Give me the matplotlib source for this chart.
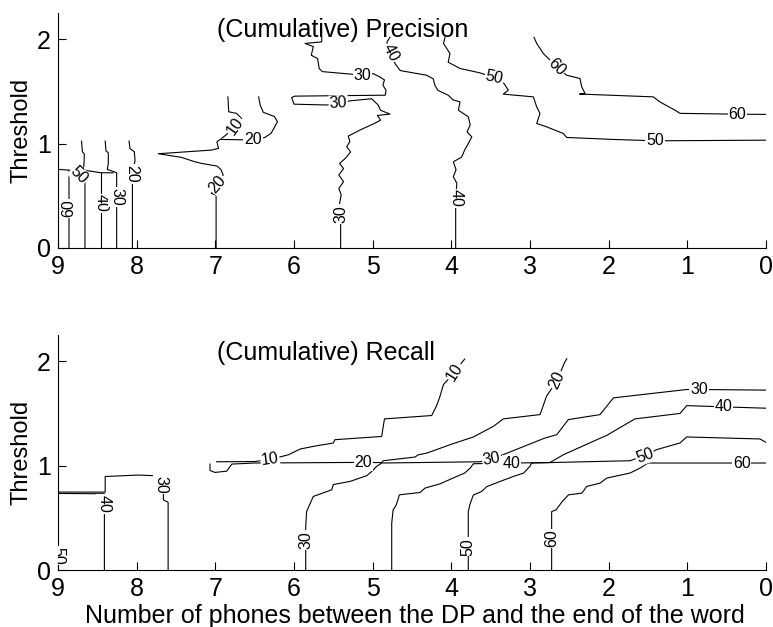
import matplotlib
matplotlib.use("Agg")
import matplotlib.pyplot as plt

plt.rcParams["font.family"] = ["Liberation Sans", "DejaVu Sans"]

# ---- contour lines, traced as (phones, threshold) pairs -------------------
# precision panel
prec_60a = [(8.86, 0.0), (8.86, 0.746), (9.0, 0.753)]
prec_50a = [(8.657, 0.0), (8.657, 0.64), (8.75, 0.69), (8.85, 0.746)]
prec_50b = [(8.70, 1.024), (8.69, 0.922), (8.665, 0.90), (8.67, 0.794),
            (8.68, 0.753), (8.62, 0.74), (8.457, 0.721), (8.30, 0.72)]
prec_40a = [(8.457, 0.0), (8.457, 0.721)]
prec_30a = [(8.254, 0.0), (8.254, 0.721), (8.373, 0.753), (8.36, 0.81),
            (8.36, 0.912), (8.39, 0.931), (8.40, 1.024)]
prec_20a = [(8.054, 0.0), (8.054, 0.62), (8.056, 0.708), (8.03, 0.80),
            (8.02, 0.842), (8.03, 0.922), (8.085, 0.953), (8.097, 1.024)]
prec_20b = [(6.99, 0.0), (6.99, 0.507), (7.05, 0.523), (6.97, 0.61),
            (6.90, 0.70), (6.93, 0.753), (6.98, 0.785), (7.17, 0.81),
            (7.26, 0.826), (7.43, 0.868), (7.725, 0.903), (7.05, 0.938),
            (6.96, 0.954), (6.98, 1.017), (6.94, 1.04), (6.52, 1.035),
            (6.37, 1.059), (6.29, 1.10), (6.21, 1.21), (6.25, 1.26),
            (6.39, 1.30), (6.43, 1.37), (6.45, 1.448)]
prec_10a = [(6.92, 1.05), (6.87, 1.08), (6.75, 1.167), (6.665, 1.24),
            (6.73, 1.29), (6.83, 1.305), (6.84, 1.448)]
prec_30b = [(5.648, 2.02), (5.648, 1.975), (5.86, 1.96), (5.755, 1.93),
            (5.78, 1.847), (5.70, 1.815), (5.68, 1.72), (5.64, 1.69),
            (5.267, 1.665), (5.127, 1.655), (4.992, 1.67), (4.91, 1.64),
            (4.85, 1.61), (4.87, 1.56), (4.83, 1.51), (4.84, 1.464),
            (5.99, 1.455), (6.03, 1.442), (6.00, 1.378), (5.584, 1.37),
            (5.437, 1.385), (5.288, 1.41), (5.013, 1.43), (4.93, 1.37),
            (4.90, 1.32), (4.78, 1.283), (4.94, 1.27), (4.90, 1.225),
            (4.96, 1.20), (5.161, 1.13), (5.31, 1.072), (5.29, 1.02),
            (5.33, 0.97), (5.28, 0.92), (5.35, 0.857), (5.42, 0.81),
            (5.37, 0.76), (5.43, 0.70), (5.37, 0.635), (5.43, 0.57),
            (5.40, 0.51), (5.42, 0.43), (5.407, 0.325), (5.407, 0.0)]
prec_40b = [(4.78, 2.02), (4.82, 1.97), (4.77, 1.87), (4.716, 1.767),
            (4.65, 1.70), (4.313, 1.655), (4.23, 1.62), (4.21, 1.56),
            (4.17, 1.51), (4.04, 1.464), (3.98, 1.42), (3.89, 1.40),
            (3.91, 1.32), (3.785, 1.257), (3.76, 1.18), (3.80, 1.113),
            (3.74, 1.065), (3.785, 1.0), (3.83, 0.94), (3.87, 0.87),
            (3.975, 0.826), (3.94, 0.75), (3.975, 0.683), (3.93, 0.62),
            (3.945, 0.475), (3.945, 0.0)]
prec_50c = [(4.08, 2.02), (4.10, 1.96), (4.017, 1.863), (4.04, 1.78),
            (3.89, 1.72), (3.636, 1.678), (3.454, 1.633), (3.33, 1.576),
            (3.276, 1.512), (3.34, 1.474), (2.958, 1.448), (2.915, 1.352),
            (2.873, 1.289), (2.915, 1.193), (2.79, 1.161), (2.577, 1.097),
            (2.534, 1.059), (1.941, 1.04), (1.41, 1.027), (0.0, 1.033)]
prec_60b = [(2.95, 2.02), (2.915, 1.96), (2.83, 1.863), (2.66, 1.735),
            (2.534, 1.655), (2.365, 1.624), (2.343, 1.544), (2.30, 1.48),
            (2.37, 1.475), (1.433, 1.448), (1.35, 1.40), (1.157, 1.32),
            (1.094, 1.29), (0.365, 1.282), (0.0, 1.28)]

prec_lines = [prec_60a, prec_50a, prec_50b, prec_40a, prec_30a, prec_20a,
              prec_20b, prec_10a, prec_30b, prec_40b, prec_50c, prec_60b]

# (x, y, level, angle)
prec_labels = [(8.86, 0.38, "60", 90), (8.73, 0.70, "50", -45),
               (8.457, 0.428, "40", -90), (8.254, 0.49, "30", -90),
               (8.056, 0.708, "20", -90), (6.97, 0.61, "20", 50),
               (6.52, 1.035, "20", 0), (6.75, 1.167, "10", 55),
               (5.127, 1.655, "30", 0), (5.437, 1.385, "30", 3),
               (5.407, 0.325, "30", 90), (4.77, 1.87, "40", -62),
               (3.945, 0.475, "40", -90), (3.454, 1.633, "50", -12),
               (1.41, 1.027, "50", 0), (2.66, 1.735, "60", -45),
               (0.365, 1.282, "60", 0)]

# recall panel
rec_40a = [(9.0, 0.735), (8.41, 0.732), (8.41, 0.0)]
rec_30a = [(9.0, 0.748), (8.40, 0.748), (8.40, 0.897), (7.98, 0.911),
           (7.745, 0.904), (7.69, 0.818), (7.66, 0.74), (7.66, 0.674),
           (7.60, 0.65), (7.60, 0.0)]
rec_20 = [(7.068, 1.016), (7.068, 0.955), (7.004, 0.936), (6.856, 0.948),
          (6.79, 1.016), (6.5, 1.026), (5.119, 1.032), (4.886, 1.03),
          (4.865, 1.048), (4.462, 1.083), (4.42, 1.105), (4.315, 1.12),
          (4.02, 1.2), (3.89, 1.233), (3.72, 1.275), (3.465, 1.377),
          (3.34, 1.448), (2.873, 1.489), (2.85, 1.537), (2.79, 1.665),
          (2.653, 1.818), (2.563, 1.984), (2.533, 2.023)]
rec_10 = [(6.983, 1.038), (6.50, 1.04), (6.305, 1.06), (6.07, 1.105),
          (5.92, 1.16), (5.72, 1.19), (5.50, 1.217), (5.48, 1.249),
          (4.886, 1.28), (4.85, 1.448), (4.25, 1.48), (4.19, 1.57),
          (4.15, 1.65), (4.10, 1.777), (3.954, 1.895), (3.87, 1.984),
          (3.83, 2.02)]
rec_30b = [(5.851, 0.0), (5.851, 0.419), (5.84, 0.562), (5.755, 0.706),
           (5.52, 0.77), (5.50, 0.82), (5.288, 0.85), (5.076, 0.905),
           (5.01, 0.946), (4.95, 0.994), (4.886, 1.026), (3.636, 1.038),
           (3.487, 1.063), (3.38, 1.094), (3.127, 1.17), (2.81, 1.265),
           (2.66, 1.297), (2.513, 1.441), (2.11, 1.489), (1.94, 1.649),
           (1.008, 1.729), (0.85, 1.729), (0.0, 1.723)]
rec_40b = [(4.758, 0.0), (4.758, 0.45), (4.74, 0.578), (4.70, 0.626),
           (4.66, 0.722), (4.398, 0.744), (4.335, 0.786), (4.144, 0.827),
           (3.93, 0.898), (3.83, 0.93), (3.76, 0.978), (3.72, 1.019),
           (3.233, 1.026), (2.75, 1.03), (2.704, 1.049), (2.577, 1.105),
           (2.132, 1.255), (2.03, 1.288), (1.666, 1.448), (1.093, 1.50),
           (1.008, 1.575), (0.543, 1.563), (0.0, 1.55)]
rec_50 = [(3.785, 0.0), (3.785, 0.562), (3.76, 0.64), (3.72, 0.72),
          (3.615, 0.754), (3.55, 0.80), (3.38, 0.85), (3.21, 0.898),
          (3.08, 0.93), (3.0, 0.996), (2.98, 1.026), (1.729, 1.048),
          (1.54, 1.097), (1.39, 1.154), (1.093, 1.218), (1.008, 1.275),
          (0.077, 1.256), (0.0, 1.223)]
rec_60 = [(2.725, 0.0), (2.725, 0.45), (2.725, 0.562), (2.67, 0.578),
          (2.59, 0.658), (2.51, 0.722), (2.34, 0.738), (2.28, 0.802),
          (2.11, 0.834), (2.025, 0.882), (1.729, 0.93), (1.60, 0.978),
          (1.50, 1.026), (0.31, 1.026), (0.0, 1.026)]

rec_lines = [rec_40a, rec_30a, rec_20, rec_10, rec_30b, rec_40b, rec_50, rec_60]

rec_labels = [(8.41, 0.636, "40", -90), (7.69, 0.818, "30", -90),
              (6.305, 1.06, "10", 8), (5.119, 1.032, "20", 0),
              (3.954, 1.895, "10", 58), (2.653, 1.818, "20", 65),
              (5.851, 0.29, "30", 90), (3.487, 1.063, "30", 10),
              (3.233, 1.026, "40", 0), (0.85, 1.729, "30", 0),
              (0.543, 1.563, "40", 0), (3.785, 0.226, "50", 90),
              (1.54, 1.097, "50", 20), (2.725, 0.307, "60", 90),
              (0.31, 1.026, "60", 0), (9.0, 0.14, "50", -90)]

x_ticks = list(range(10))
y_ticks = [0, 1, 2]

FS = 18


def draw_panel(ax, lines, labels, title, title_y):
    for pts in lines:
        xs = [p[0] for p in pts]
        ys = [p[1] for p in pts]
        ax.plot(xs, ys, color="black", lw=0.8, zorder=2)
    for x, y, s, ang in labels:
        ax.text(x, y, s, rotation=ang, rotation_mode="anchor",
                ha="center", va="center", fontsize=11.5, zorder=3,
                bbox=dict(facecolor="white", edgecolor="none", pad=0.6),
                clip_on=True)
    ax.set_xlim(9, 0)
    ax.set_ylim(0, 2.25)
    ax.set_xticks(x_ticks)
    ax.set_yticks(y_ticks)
    ax.tick_params(direction="in", length=6, width=0.8, labelsize=FS,
                   top=False, right=False, pad=5)
    for side in ("top", "right"):
        ax.spines[side].set_visible(False)
    for side in ("left", "bottom"):
        ax.spines[side].set_linewidth(0.8)
    ax.set_ylabel("Threshold", fontsize=17)
    ax.yaxis.set_label_coords(-0.036, 0.5)
    ax.text(0.2246, title_y, title, transform=ax.transAxes, fontsize=FS,
            ha="left", va="center")


fig = plt.figure(figsize=(7.73, 6.27), dpi=100)
ax1 = fig.add_axes([0.075, 0.6045, 0.916, 0.3745])
ax2 = fig.add_axes([0.075, 0.0904, 0.916, 0.3753])

draw_panel(ax1, prec_lines, prec_labels, "(Cumulative) Precision", 0.929)
draw_panel(ax2, rec_lines, rec_labels, "(Cumulative) Recall", 0.925)
fig.text(0.537, 0.0065,
         "Number of phones between the DP and the end of the word",
         fontsize=FS, ha="center", va="baseline")

fig.savefig("out.png", dpi=100)
